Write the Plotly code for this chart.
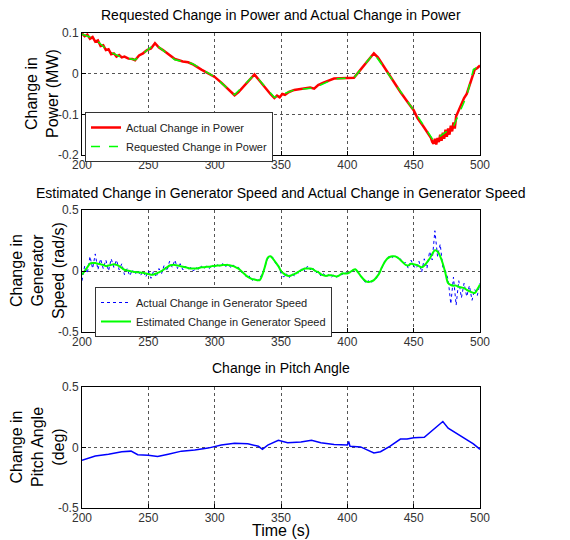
import plotly.graph_objects as go

# ---- power subplot ----
power_req_t = [200, 210, 220, 228, 240, 255, 270, 283, 300, 315, 330, 345, 360, 375,
               390, 405, 420, 450, 465, 480, 490, 495, 500]
power_req = [0.097, 0.085, 0.055, 0.043, 0.034, 0.073, 0.034, 0.025, -0.008, -0.052,
             -0.002, -0.058, -0.040, -0.035, -0.013, -0.010, 0.050, -0.090, -0.165,
             -0.130, -0.055, 0.010, 0.020]

power_act_t = [200, 202, 204, 206, 208, 210, 212, 214, 216, 218, 220, 222, 224, 226, 228,
               230, 232, 235, 238, 240, 243, 246, 249, 252, 255, 258, 261, 264, 267, 270,
               273, 276, 280, 284, 290, 295, 300, 305, 310, 315, 318, 322, 326, 330, 334,
               338, 342, 345, 347, 349, 351, 353, 356, 360, 364, 368, 372, 375, 378, 382,
               386, 390, 395, 400, 405, 410, 415, 420, 423, 426, 430, 435, 440, 445, 450,
               453, 455, 457, 459, 461, 463, 464, 465, 466, 467, 468, 469, 470, 471, 472,
               473, 474, 475, 476, 477, 478, 479, 480, 481, 482, 484, 486, 488, 490, 492,
               494, 496, 498, 500]
power_act = [0.099, 0.092, 0.096, 0.086, 0.090, 0.079, 0.082, 0.068, 0.070, 0.058, 0.060,
             0.048, 0.050, 0.042, 0.046, 0.040, 0.042, 0.037, 0.036, 0.033, 0.045, 0.050,
             0.058, 0.062, 0.075, 0.064, 0.058, 0.050, 0.042, 0.036, 0.033, 0.030, 0.028,
             0.022, 0.010, 0.002, -0.008, -0.022, -0.037, -0.053, -0.045, -0.030, -0.015,
             -0.002, -0.018, -0.035, -0.050, -0.060, -0.054, -0.058, -0.050, -0.052,
             -0.045, -0.040, -0.038, -0.037, -0.034, -0.037, -0.028, -0.022, -0.016,
             -0.012, -0.011, -0.010, -0.010, 0.010, 0.030, 0.050, 0.040, 0.025, 0.003,
             -0.022, -0.045, -0.068, -0.090, -0.110, -0.118, -0.128, -0.138, -0.148,
             -0.158, -0.168, -0.172, -0.160, -0.174, -0.158, -0.168, -0.150, -0.165,
             -0.145, -0.160, -0.138, -0.155, -0.135, -0.150, -0.128, -0.142, -0.120,
             -0.135, -0.105, -0.090, -0.075, -0.060, -0.050, -0.030, -0.005, 0.010,
             0.014, 0.020]

# ---- generator speed subplot (2 s samples) ----
speed_t = list(range(200, 501, 2))
speed_est = [-0.03, 0.00, 0.03, 0.06, 0.065, 0.065, 0.06, 0.055, 0.05, 0.04, 0.045, 0.05,
             0.055, 0.05, 0.04, 0.025, 0.01, 0.005, 0.0, -0.005, -0.008, -0.01, -0.012,
             -0.015, -0.02, -0.025, -0.03, -0.028, -0.02, -0.012, 0.0, 0.015, 0.03, 0.045,
             0.05, 0.05, 0.045, 0.04, 0.035, 0.03, 0.025, 0.02, 0.02, 0.02, 0.025, 0.03,
             0.03, 0.035, 0.035, 0.04, 0.04, 0.045, 0.045, 0.05, 0.05, 0.05, 0.045, 0.04,
             0.03, 0.02, 0.0, -0.02, -0.04, -0.055, -0.065, -0.07, -0.075, -0.075, -0.03,
             0.04, 0.11, 0.12, 0.10, 0.07, 0.04, 0.0, -0.02, -0.035, -0.04, -0.035, -0.025,
             -0.015, 0.0, 0.01, 0.02, 0.02, 0.02, 0.015, 0.0, -0.01, -0.025, -0.035, -0.04,
             -0.035, -0.035, -0.04, -0.045, -0.035, -0.02, -0.02, -0.02, -0.01, 0.005,
             0.015, -0.01, -0.04, -0.065, -0.085, -0.09, -0.085, -0.075, -0.05, -0.02,
             0.03, 0.07, 0.10, 0.115, 0.12, 0.12, 0.11, 0.09, 0.07, 0.05, 0.045, 0.06,
             0.055, 0.05, 0.04, 0.03, 0.045, 0.07, 0.10, 0.14, 0.17, 0.16, 0.12, 0.06,
             -0.02, -0.10, -0.115, -0.12, -0.12, -0.13, -0.135, -0.14, -0.155, -0.165,
             -0.175, -0.18, -0.15, -0.11]
speed_act = [-0.08, 0.04, -0.02, 0.12, 0.02, 0.14, 0.01, 0.10, 0.02, 0.09, 0.00, 0.10,
             0.03, 0.09, 0.01, 0.06, -0.03, 0.02, -0.04, 0.01, -0.03, 0.01, -0.04, 0.00,
             -0.05, 0.00, -0.06, 0.00, -0.05, 0.02, -0.02, 0.05, 0.00, 0.08, 0.03, 0.09,
             0.02, 0.06, 0.01, 0.04, 0.01, 0.03, 0.00, 0.03, 0.01, 0.04, 0.02, 0.04, 0.02,
             0.05, 0.03, 0.05, 0.04, 0.06, 0.03, 0.06, 0.03, 0.05, 0.02, 0.03, -0.01,
             -0.01, -0.05, -0.04, -0.08, -0.06, -0.08, -0.06, -0.02, 0.05, 0.10, 0.12,
             0.11, 0.06, 0.05, -0.02, -0.05, -0.02, -0.06, -0.02, -0.04, -0.01, -0.02,
             0.03, 0.00, 0.04, 0.01, 0.03, -0.02, 0.00, -0.04, -0.02, -0.05, -0.03, -0.05,
             -0.03, -0.05, -0.03, -0.03, -0.01, -0.02, -0.01, 0.00, 0.01, -0.01, -0.04,
             -0.07, -0.10, -0.08, -0.10, -0.07, -0.06, -0.01, 0.02, 0.08, 0.09, 0.13,
             0.11, 0.13, 0.10, 0.10, 0.06, 0.07, 0.02, 0.09, 0.04, 0.02, 0.08, -0.01,
             0.10, 0.02, 0.16, 0.09, 0.33, 0.12, 0.22, 0.03, 0.00, -0.07, -0.27, -0.05,
             -0.28, -0.08, -0.22, -0.10, -0.21, -0.12, -0.24, -0.15, -0.20, -0.10]

# ---- pitch angle subplot ----
pitch_t = [200, 210, 220, 230, 237, 242, 250, 257, 265, 275, 285, 295, 305, 315, 325,
           333, 336, 340, 348, 355, 365, 373, 380, 390, 400, 401, 402, 410, 420, 425,
           432, 440, 445, 450, 458, 465, 472, 476, 485, 495, 500]
pitch = [-0.105, -0.070, -0.055, -0.035, -0.030, -0.060, -0.065, -0.075, -0.055, -0.030,
         -0.020, -0.005, 0.020, 0.035, 0.030, 0.010, -0.015, 0.020, 0.060, 0.040, 0.045,
         0.060, 0.040, 0.025, 0.020, 0.050, 0.010, 0.005, -0.045, -0.035, 0.010, 0.070,
         0.070, 0.080, 0.085, 0.150, 0.215, 0.160, 0.100, 0.030, -0.015]

x_ticks = [200, 250, 300, 350, 400, 450, 500]

# page body adds an 8px margin, so lay things out in window pixels minus that offset
OFF = 8
W, H = 570 - OFF, 540 - OFF
L, T = 82 - OFF, 33 - OFF
PLOT_R, PLOT_B = 480 - OFF, 508 - OFF
pw, ph = PLOT_R - L, PLOT_B - T


def px_x(px):
    return (px - OFF - L) / pw


def px_y(py):
    return (PLOT_B - (py - OFF)) / ph


fig = go.Figure()
fig.add_trace(go.Scatter(x=power_act_t, y=power_act, mode='lines', name='Actual Change in Power',
                         line=dict(color='#ff0000', width=2.5), xaxis='x', yaxis='y',
                         legend='legend'))
fig.add_trace(go.Scatter(x=power_req_t, y=power_req, mode='lines', name='Requested Change in Power',
                         line=dict(color='#00ff00', width=1.5, dash='dash'), xaxis='x', yaxis='y',
                         legend='legend'))
fig.add_trace(go.Scatter(x=speed_t, y=speed_act, mode='lines', name='Actual Change in Generator Speed',
                         line=dict(color='#0000ff', width=1, dash='dot'), xaxis='x2', yaxis='y2',
                         legend='legend2'))
fig.add_trace(go.Scatter(x=speed_t, y=speed_est, mode='lines', name='Estimated Change in Generator Speed',
                         line=dict(color='#00ff00', width=2, shape='spline'), xaxis='x2', yaxis='y2',
                         legend='legend2'))
fig.add_trace(go.Scatter(x=pitch_t, y=pitch, mode='lines', showlegend=False,
                         line=dict(color='#0000ff', width=1.5), xaxis='x3', yaxis='y3'))

axis_common = dict(showline=True, linecolor='black', linewidth=1, mirror=True,
                   showgrid=True, gridcolor='#555555', griddash='dot', gridwidth=1,
                   zeroline=False, ticks='inside', ticklen=4, tickcolor='black',
                   tickfont=dict(family='Liberation Sans, Arial', size=12, color='#333333'))

rows = [(33, 155), (210, 332), (387, 508)]
yranges = [[-0.2, 0.1], [-0.5, 0.5], [-0.5, 0.5]]
yticks = [[-0.2, -0.1, 0, 0.1], [-0.5, 0, 0.5], [-0.5, 0, 0.5]]
ytext = [['-0.2', '-0.1', '0', '0.1'], ['-0.5', '0', '0.5'], ['-0.5', '0', '0.5']]

layout = dict(width=W, height=H, paper_bgcolor='white', plot_bgcolor='white',
              margin=dict(l=L, r=W - PLOT_R, t=T, b=H - PLOT_B),
              font=dict(family='Liberation Sans, Arial', color='black'))
for i, ((top, bot), yr, yt, ytt) in enumerate(zip(rows, yranges, yticks, ytext)):
    sx = '' if i == 0 else str(i + 1)
    layout['xaxis' + sx] = dict(axis_common, domain=[0, 1], range=[200, 500],
                                tickvals=x_ticks, anchor='y' + sx, ticklabelstandoff=-1)
    layout['yaxis' + sx] = dict(axis_common, domain=[px_y(bot), px_y(top)], range=yr,
                                tickvals=yt, ticktext=ytt, anchor='x' + sx)

legend_style = dict(xanchor='left', yanchor='top', bgcolor='white', bordercolor='#333333',
                    borderwidth=1, font=dict(size=11, color='#222222'), tracegroupgap=0,
                    itemwidth=30)
layout['legend'] = dict(legend_style, x=px_x(85), y=px_y(112))
layout['legend2'] = dict(legend_style, x=px_x(95), y=px_y(287))

titles = [('Requested Change in Power and Actual Change in Power', 15),
          ('Estimated Change in Generator Speed and Actual Change in Generator Speed', 193),
          ('Change in Pitch Angle', 368)]
ylabels = [('Change in<br>Power (MW)', 94, 42),
           ('Change in<br>Generator<br>Speed (rad/s)', 271, 37),
           ('Change in<br>Pitch Angle<br>(deg)', 447, 37)]
annotations = []
for text, py in titles:
    annotations.append(dict(text=text, x=0.5, y=px_y(py), xref='paper', yref='paper',
                            xanchor='center', yanchor='middle', showarrow=False,
                            font=dict(size=14)))
for text, py, pxc in ylabels:
    annotations.append(dict(text=text, x=px_x(pxc), y=px_y(py), xref='paper', yref='paper',
                            xanchor='center', yanchor='middle', showarrow=False,
                            textangle=-90, font=dict(size=16)))
annotations.append(dict(text='Time (s)', x=0.5, y=px_y(530), xref='paper', yref='paper',
                        xanchor='center', yanchor='middle', showarrow=False,
                        font=dict(size=16)))
layout['annotations'] = annotations

fig.update_layout(**layout)
fig.write_html("out.html")
